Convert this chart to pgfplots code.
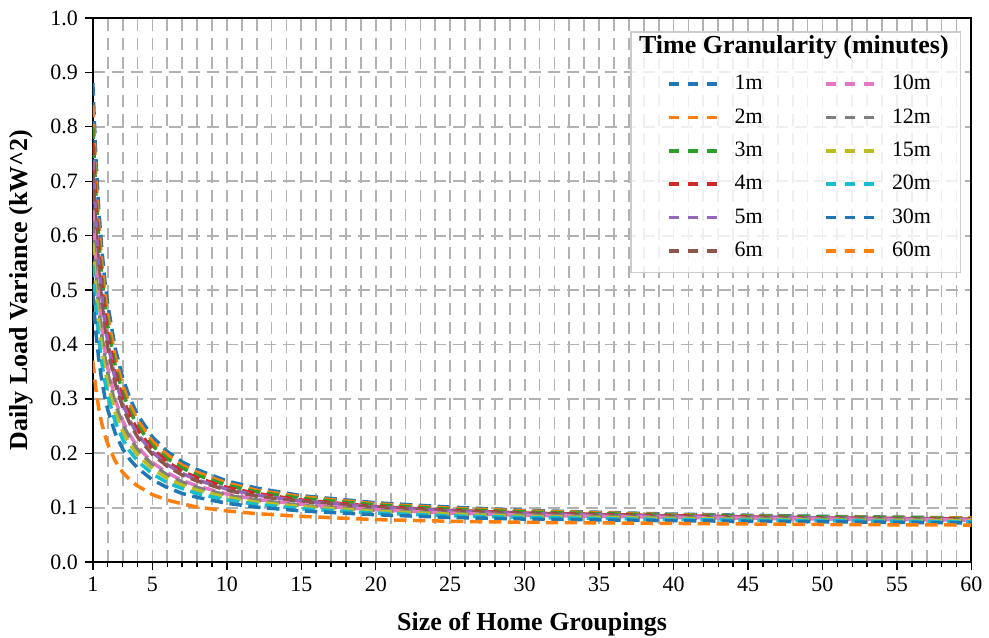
\documentclass[border=0pt]{standalone}
\usepackage{pgfplots}
\pgfplotsset{compat=1.18}
\usepackage{pgfplotstable}
\usepackage{fontspec}
\setmainfont{Liberation Serif}

% tab10 palette
\definecolor{tabblue}{HTML}{1F77B4}
\definecolor{taborange}{HTML}{FF7F0E}
\definecolor{tabgreen}{HTML}{2CA02C}
\definecolor{tabred}{HTML}{D62728}
\definecolor{tabpurple}{HTML}{9467BD}
\definecolor{tabbrown}{HTML}{8C564B}
\definecolor{tabpink}{HTML}{E377C2}
\definecolor{tabgray}{HTML}{7F7F7F}
\definecolor{tabolive}{HTML}{BCBD22}
\definecolor{tabcyan}{HTML}{17BECF}
\definecolor{gridgray}{RGB}{178,178,178}

% daily load variance (kW^2) against the number of homes in a group
\pgfplotstableread{
x    m1    m2    m3    m4    m5    m6    m10   m12   m15   m20   m30   m60
1    0.880 0.840 0.800 0.770 0.740 0.720 0.647 0.627 0.587 0.546 0.495 0.370
1.2  0.745 0.711 0.678 0.653 0.628 0.611 0.550 0.534 0.500 0.466 0.423 0.319
1.4  0.648 0.619 0.591 0.569 0.548 0.533 0.481 0.467 0.438 0.409 0.372 0.282
1.6  0.576 0.551 0.526 0.506 0.488 0.475 0.430 0.417 0.392 0.366 0.334 0.255
1.8  0.519 0.497 0.475 0.458 0.441 0.430 0.389 0.378 0.356 0.333 0.304 0.234
2    0.474 0.454 0.434 0.419 0.404 0.394 0.357 0.347 0.327 0.306 0.280 0.217
2.5  0.393 0.377 0.361 0.348 0.336 0.328 0.299 0.291 0.275 0.258 0.237 0.186
3    0.339 0.325 0.312 0.301 0.291 0.285 0.260 0.254 0.240 0.226 0.208 0.165
3.5  0.300 0.289 0.277 0.268 0.259 0.254 0.233 0.227 0.216 0.203 0.188 0.151
4    0.271 0.261 0.251 0.243 0.235 0.230 0.212 0.207 0.197 0.186 0.173 0.140
5    0.230 0.222 0.214 0.208 0.202 0.198 0.183 0.179 0.171 0.162 0.151 0.124
6    0.203 0.197 0.190 0.184 0.179 0.176 0.164 0.160 0.154 0.146 0.137 0.114
7    0.184 0.178 0.173 0.167 0.163 0.160 0.150 0.147 0.141 0.135 0.126 0.107
8    0.170 0.165 0.160 0.155 0.151 0.149 0.140 0.137 0.132 0.126 0.119 0.101
10   0.149 0.145 0.141 0.137 0.134 0.132 0.125 0.123 0.119 0.114 0.108 0.094
12   0.136 0.132 0.129 0.126 0.123 0.121 0.115 0.114 0.110 0.106 0.101 0.089
15   0.122 0.120 0.117 0.114 0.112 0.111 0.106 0.104 0.102 0.098 0.094 0.084
20   0.109 0.107 0.105 0.102 0.101 0.100 0.096 0.095 0.093 0.090 0.087 0.078
25   0.101 0.099 0.097 0.095 0.094 0.093 0.090 0.089 0.088 0.085 0.082 0.075
30   0.095 0.094 0.092 0.090 0.089 0.089 0.086 0.086 0.084 0.082 0.079 0.073
40   0.088 0.087 0.086 0.085 0.084 0.083 0.082 0.081 0.080 0.078 0.076 0.071
50   0.084 0.083 0.083 0.081 0.081 0.080 0.079 0.078 0.077 0.076 0.074 0.069
60   0.081 0.081 0.080 0.079 0.078 0.078 0.077 0.076 0.076 0.074 0.072 0.068
}\vardata

\begin{document}
\begin{tikzpicture}
\begin{axis}[
  name=ax,
  scale only axis,
  width=440pt, height=272.5pt,
  xmin=1, xmax=60, ymin=0, ymax=1,
  xtick={1,5,10,15,20,25,30,35,40,45,50,55,60},
  minor xtick={2,3,4,6,7,8,9,11,12,13,14,16,17,18,19,21,22,23,24,26,27,28,29,31,32,33,34,36,37,38,39,41,42,43,44,46,47,48,49,51,52,53,54,56,57,58,59},
  ytick={0,0.1,...,1.0},
  yticklabel style={/pgf/number format/.cd, fixed, fixed zerofill, precision=1},
  /pgf/number format/assume math mode=true,
  tick label style={font=\fontsize{11}{13}\selectfont, black},
  tick pos=left,
  tick align=outside,
  major tick length=4pt,
  minor tick length=2.5pt,
  every tick/.style={black, line width=0.7pt},
  axis line style={black, line width=1pt},
  grid=both,
  major grid style={gridgray, line width=0.9pt, dash pattern=on 6pt off 3.5pt},
  minor grid style={gridgray, line width=0.9pt, dash pattern=on 6pt off 3.5pt},
  xlabel={Size of Home Groupings},
  ylabel={Daily Load Variance (kW\textasciicircum 2)},
  label style={font=\bfseries\fontsize{13}{15}\selectfont, inner sep=0pt},
  xlabel style={at={(axis description cs:0.5,-0.0917)}, anchor=north},
  ylabel style={at={(axis description cs:-0.067,0.5)}, anchor=south},
  every axis plot/.append style={line width=1.75pt, dash pattern=on 6.2pt off 3.3pt},
  legend columns=6,
  transpose legend,
  legend cell align=left,
  legend image code/.code={\draw[#1, dash pattern=on 5pt off 4.5pt] (0pt,0pt) -- (24.5pt,0pt); \path (30pt,0pt);},
  legend style={at={(rel axis cs:0.6534,0.9027)}, anchor=north west,
    draw=none, fill=none, inner sep=0pt,
    font=\fontsize{11}{13}\selectfont,
    row sep=3.9pt,
    /tikz/every odd column/.append style={column sep=0pt},
    /tikz/every even column/.append style={column sep=29pt}},
]
\addplot[tabblue]   table[x=x, y=m1]  {\vardata};
\addplot[taborange] table[x=x, y=m2]  {\vardata};
\addplot[tabgreen]  table[x=x, y=m3]  {\vardata};
\addplot[tabred]    table[x=x, y=m4]  {\vardata};
\addplot[tabpurple] table[x=x, y=m5]  {\vardata};
\addplot[tabbrown]  table[x=x, y=m6]  {\vardata};
\addplot[tabpink]   table[x=x, y=m10] {\vardata};
\addplot[tabgray]   table[x=x, y=m12] {\vardata};
\addplot[tabolive]  table[x=x, y=m15] {\vardata};
\addplot[tabcyan]   table[x=x, y=m20] {\vardata};
\addplot[tabblue]   table[x=x, y=m30] {\vardata};
\addplot[taborange] table[x=x, y=m60] {\vardata};
\legend{1m,2m,3m,4m,5m,6m,10m,12m,15m,20m,30m,60m}
% legend frame and title
\fill[white, fill opacity=0.8] (rel axis cs:0.6125,0.5321) rectangle (rel axis cs:0.9875,0.9743);
\draw[black!20, line width=0.8pt] (rel axis cs:0.6125,0.5321) rectangle (rel axis cs:0.9875,0.9743);
\node[font=\bfseries\fontsize{13}{15}\selectfont] at (rel axis cs:0.798,0.9468) {Time Granularity (minutes)};
\end{axis}
% page extent around the axis box
\path ([xshift=-46.5pt, yshift=-38pt]ax.south west) rectangle ([xshift=8pt, yshift=9pt]ax.north east);
\end{tikzpicture}
\end{document}
